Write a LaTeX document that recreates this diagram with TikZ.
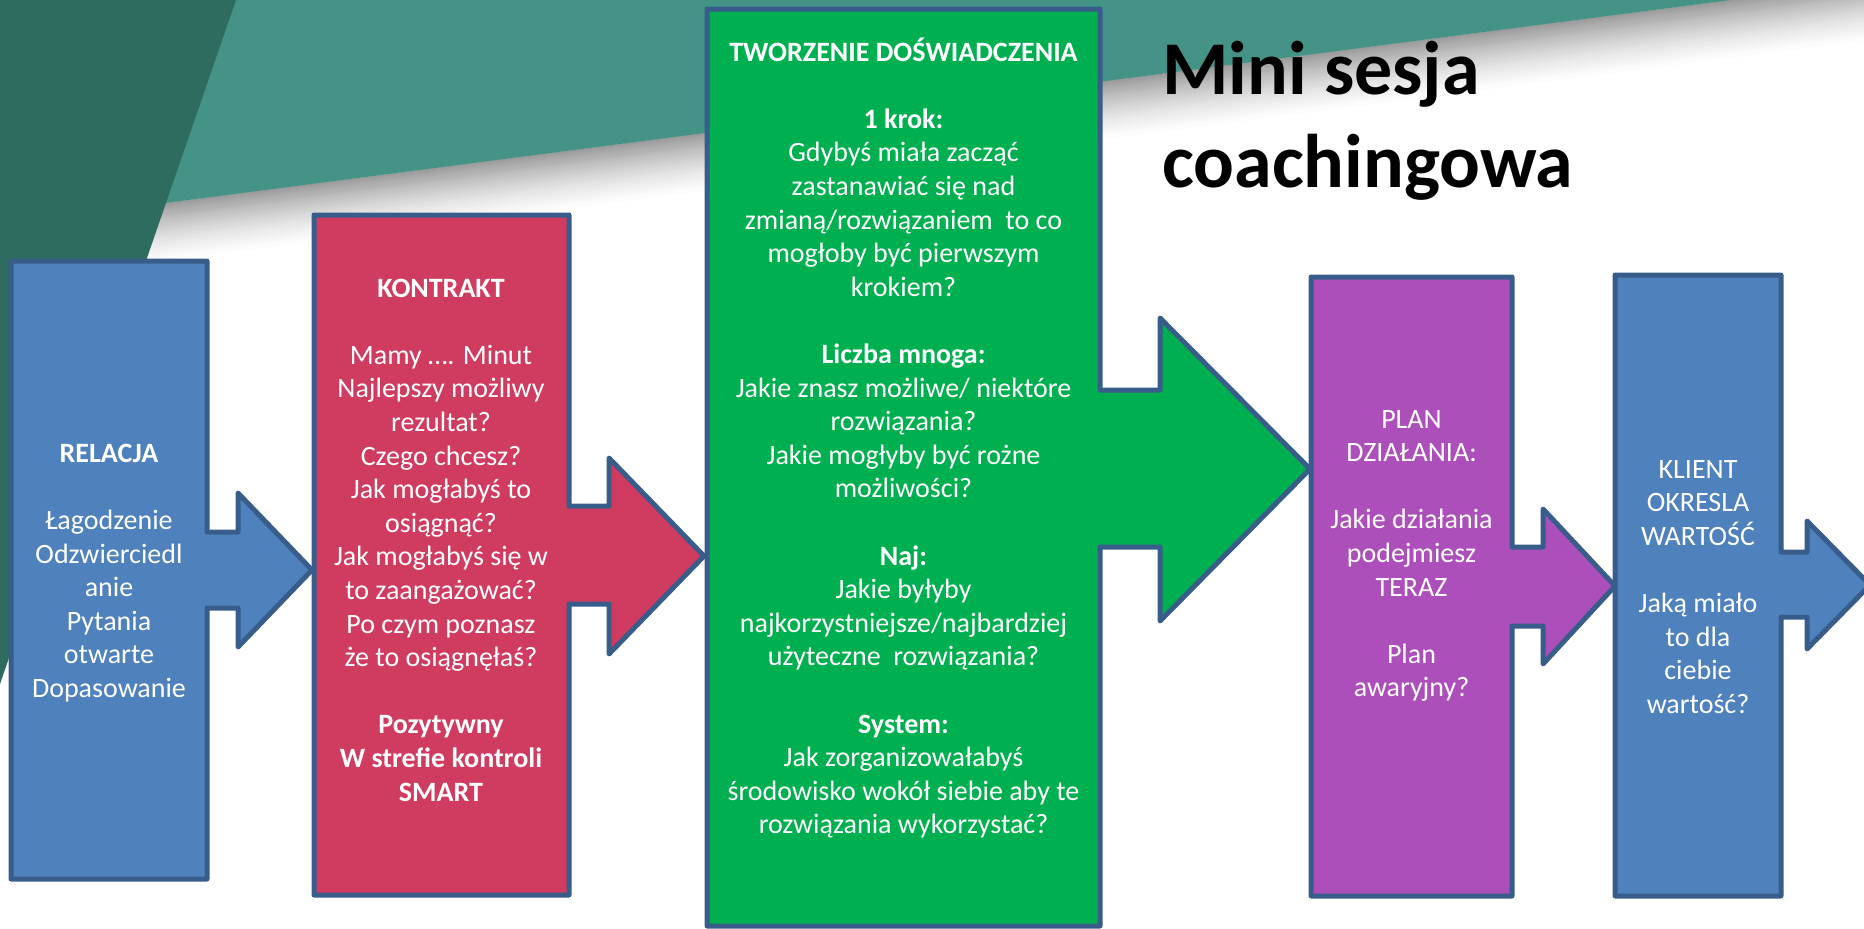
\documentclass[tikz,border=0pt]{standalone}
\usepackage{fontspec}
\setmainfont{Carlito}
\usetikzlibrary{calc}

\definecolor{tealdark}{RGB}{45,108,94}
\definecolor{teallight}{RGB}{69,146,134}
\definecolor{boxline}{RGB}{56,93,138}
\definecolor{boxblue}{RGB}{79,129,189}
\definecolor{boxred}{RGB}{208,59,96}
\definecolor{boxgreen}{RGB}{0,176,80}
\definecolor{boxpurple}{RGB}{172,79,186}

\begin{document}
\begin{tikzpicture}[x=1pt, y=-1pt,
  box/.style={draw=boxline, line width=5pt, line join=round},
  boxtext/.style={text=white, align=center, inner sep=0pt, font=\fontsize{28}{33.6}\selectfont}]

% Page frame
\useasboundingbox (0,0) rectangle (1864,929);

% Shadow under the teal band: thin lines fading to white
\foreach \d in {1,3,...,61}{
  \pgfmathtruncatemacro{\g}{40*(1-\d/63)^1.5}
  \draw[line width=2.6pt, color=black!\g] (0,224.5+\d) -- (1864,-17.2+\d);
}

% Teal band and dark wedge
\fill[teallight] (0,0) -- (1731,0) -- (150,205) -- (0,224.5) -- cycle;
\fill[tealdark] (0,0) -- (236,0) -- (0,684) -- cycle;

% Step 1: relacja (box with arrow)
\draw[box, fill=boxblue] (11,261) -- (207,261) -- (207,532) -- (238,532) -- (238,493)
  -- (312,570) -- (238,647) -- (238,608) -- (207,608) -- (207,879) -- (11,879) -- cycle;
\node[boxtext] (relacja) at (109,573) {\textbf{RELACJA}\\[33.6pt]
  Łagodzenie\\ Odzwierciedl\\ anie\\ Pytania\\ otwarte\\ Dopasowanie};

% Step 2: kontrakt
\draw[box, fill=boxred] (314,215) -- (569,215) -- (569,506) -- (609,506) -- (609,458)
  -- (704,556) -- (609,654) -- (609,604) -- (569,604) -- (569,895) -- (314,895) -- cycle;
\node[boxtext] (kontrakt) at (441,540) {\textbf{KONTRAKT}\\[33.6pt]
  Mamy …. Minut\\ Najlepszy możliwy\\ rezultat?\\ Czego chcesz?\\
  Jak mogłabyś to\\ osiągnąć?\\ Jak mogłabyś się w\\ to zaangażować?\\
  Po czym poznasz\\ że to osiągnęłaś?\\[33.6pt]
  \textbf{Pozytywny}\\ \textbf{W strefie kontroli}\\ \textbf{SMART}};

% Step 3: tworzenie doswiadczenia
\draw[box, fill=boxgreen] (707,9) -- (1100,9) -- (1100,390) -- (1160,390) -- (1160,318)
  -- (1310,469) -- (1160,621) -- (1160,547) -- (1100,547) -- (1100,926) -- (707,926) -- cycle;
\node[boxtext] (tworzenie) at (903.5,438) {\textbf{TWORZENIE DOŚWIADCZENIA}\\[33.6pt]
  \textbf{1 krok:}\\ Gdybyś miała zacząć\\ zastanawiać się nad\\
  zmianą/rozwiązaniem\ \ to co\\ mogłoby być pierwszym\\ krokiem?\\[33.6pt]
  \textbf{Liczba mnoga:}\\ Jakie znasz możliwe/ niektóre\\ rozwiązania?\\
  Jakie mogłyby być rożne\\ możliwości?\\[33.6pt]
  \textbf{Naj:}\\ Jakie byłyby\\ najkorzystniejsze/najbardziej\\ użyteczne\ \ rozwiązania?\\[33.6pt]
  \textbf{System:}\\ Jak zorganizowałabyś\\ środowisko wokół siebie aby te\\ rozwiązania wykorzystać?};

% Step 4: plan dzialania
\draw[box, fill=boxpurple] (1311,277) -- (1512,277) -- (1512,547) -- (1543,547) -- (1543,509)
  -- (1615,586) -- (1543,664) -- (1543,626) -- (1512,626) -- (1512,896) -- (1311,896) -- cycle;
\node[boxtext] (plan) at (1411.5,556) {PLAN\\ DZIAŁANIA:\\[33.6pt]
  Jakie działania\\ podejmiesz\\ TERAZ\\[33.6pt] Plan\\ awaryjny?};

% Step 5: klient okresla wartosc
\draw[box, fill=boxblue] (1615,275) -- (1781,275) -- (1781,552) -- (1807,552) -- (1807,521)
  -- (1870,585) -- (1807,649) -- (1807,617) -- (1781,617) -- (1781,896) -- (1615,896) -- cycle;
\node[boxtext] (klient) at (1698,587) {KLIENT\\ OKRESLA\\ WARTOŚĆ\\[33.6pt]
  Jaką miało\\ to dla\\ ciebie\\ wartość?};

% Title
\node[anchor=west, align=left, inner sep=0pt, font=\fontsize{76}{93}\selectfont\bfseries]
  (title) at (1162,121) {Mini sesja\\ coachingowa};

\end{tikzpicture}
\end{document}
